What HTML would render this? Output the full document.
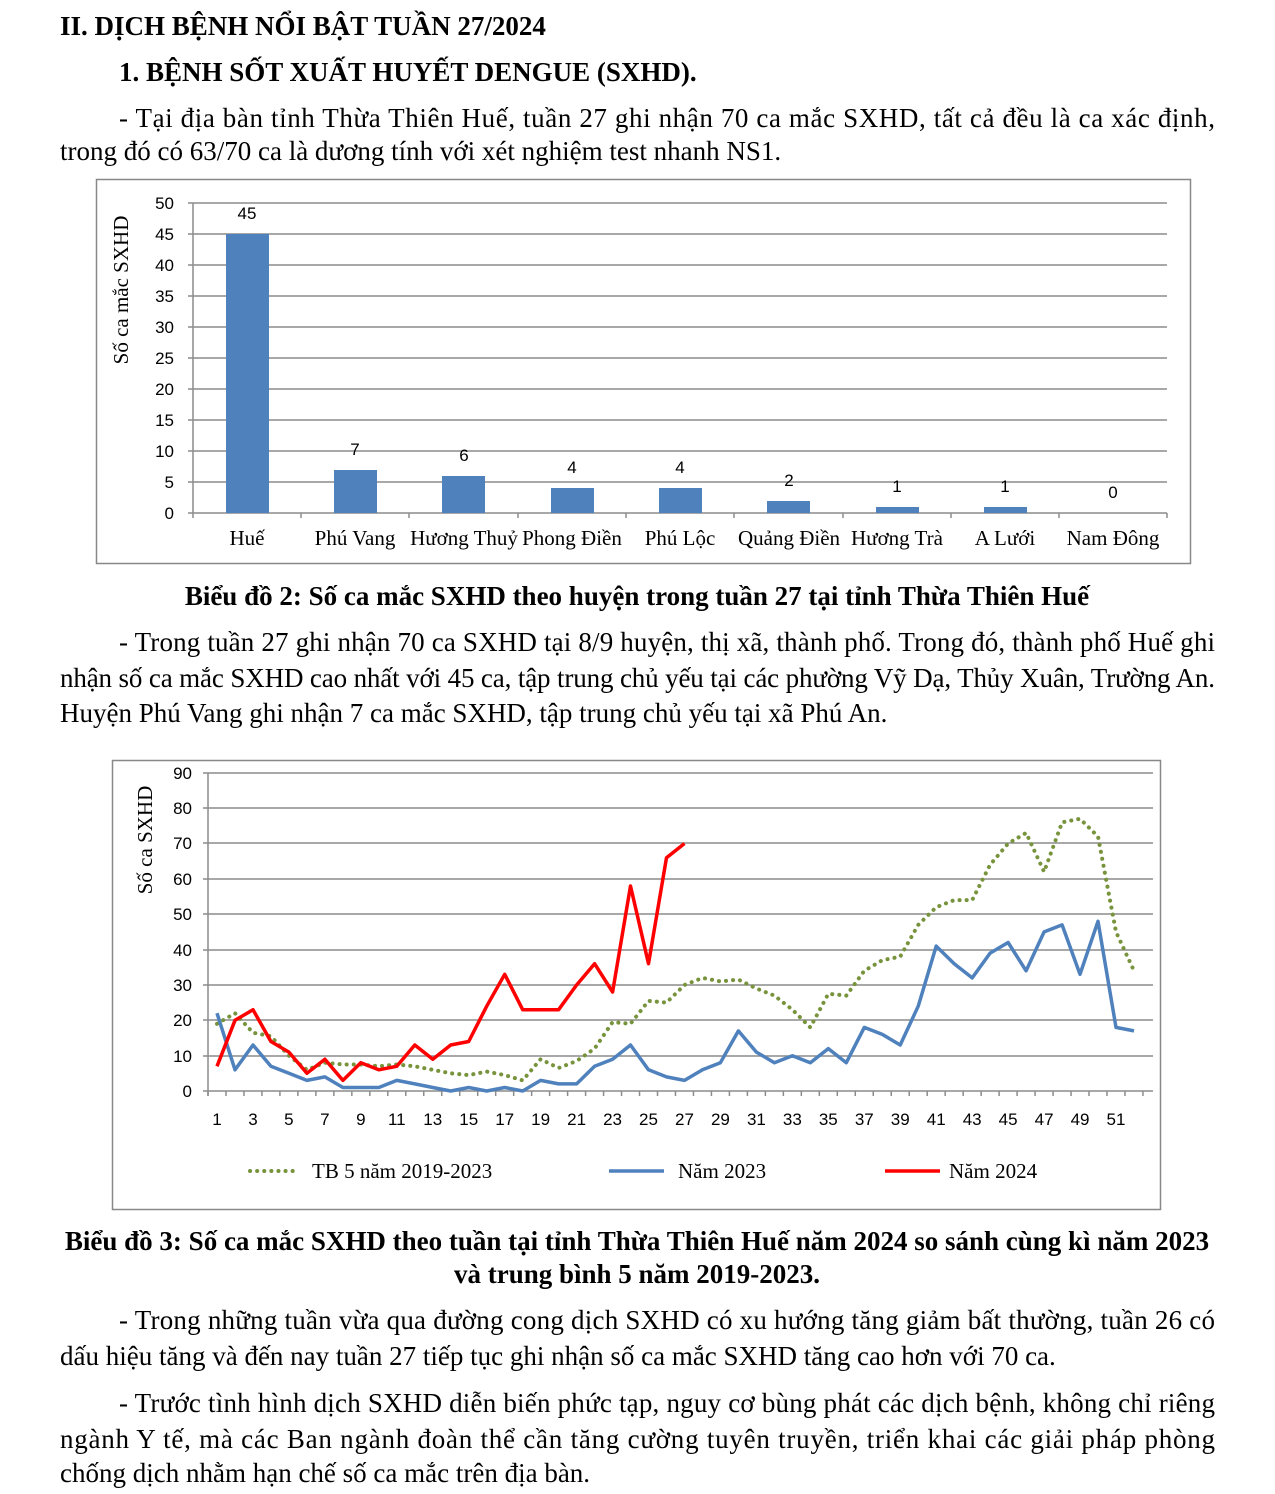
<!DOCTYPE html>
<html><head><meta charset="utf-8"><style>
body{margin:0;background:#fff;}
svg{display:block}
.t{font-family:"Liberation Serif",serif;font-size:27px;fill:#000}
.b{font-weight:bold}
.s{font-family:"Liberation Sans",sans-serif;font-size:17px;fill:#000}
.sr{font-family:"Liberation Serif",serif;font-size:21px;fill:#000}
</style></head><body>
<svg width="1275" height="1494" xmlns="http://www.w3.org/2000/svg">
<text class="t b" x="60" y="35">II. DỊCH BỆNH NỔI BẬT TUẦN 27/2024</text>
<text class="t b" x="119" y="81">1. BỆNH SỐT XUẤT HUYẾT DENGUE (SXHD).</text>
<text class="t" x="119" y="127" textLength="1096" lengthAdjust="spacing">- Tại địa bàn tỉnh Thừa Thiên Huế, tuần 27 ghi nhận 70 ca mắc SXHD, tất cả đều là ca xác định,</text>
<text class="t" x="60" y="160">trong đó có 63/70 ca là dương tính với xét nghiệm test nhanh NS1.</text>

<!-- Bar chart -->
<rect x="96.5" y="179.5" width="1094" height="384" fill="#fff" stroke="#888" stroke-width="1.5"/>
<g stroke="#8c8c8c" stroke-width="1.5">
<line x1="188" x2="1167" y1="513" y2="513"/>
<line x1="188" x2="1167" y1="482" y2="482"/>
<line x1="188" x2="1167" y1="451" y2="451"/>
<line x1="188" x2="1167" y1="420" y2="420"/>
<line x1="188" x2="1167" y1="389" y2="389"/>
<line x1="188" x2="1167" y1="358" y2="358"/>
<line x1="188" x2="1167" y1="327" y2="327"/>
<line x1="188" x2="1167" y1="296" y2="296"/>
<line x1="188" x2="1167" y1="265" y2="265"/>
<line x1="188" x2="1167" y1="234" y2="234"/>
<line x1="188" x2="1167" y1="203" y2="203"/>
<line x1="193" x2="193" y1="203" y2="518"/>
<line x1="301" x2="301" y1="513" y2="518"/><line x1="409" x2="409" y1="513" y2="518"/>
<line x1="518" x2="518" y1="513" y2="518"/><line x1="626" x2="626" y1="513" y2="518"/>
<line x1="734" x2="734" y1="513" y2="518"/><line x1="843" x2="843" y1="513" y2="518"/>
<line x1="951" x2="951" y1="513" y2="518"/><line x1="1059" x2="1059" y1="513" y2="518"/>
<line x1="1167" x2="1167" y1="513" y2="518"/>
</g>
<g class="s" text-anchor="end">
<text x="174" y="519">0</text><text x="174" y="488">5</text><text x="174" y="457">10</text><text x="174" y="426">15</text><text x="174" y="395">20</text><text x="174" y="364">25</text><text x="174" y="333">30</text><text x="174" y="302">35</text><text x="174" y="271">40</text><text x="174" y="240">45</text><text x="174" y="209">50</text>
</g>
<text class="sr" transform="translate(128,290) rotate(-90)" text-anchor="middle">Số ca mắc SXHD</text>
<g fill="#4f81bd">
<rect x="226" y="234" width="43" height="279"/>
<rect x="334" y="470" width="43" height="43"/>
<rect x="442" y="476" width="43" height="37"/>
<rect x="551" y="488" width="43" height="25"/>
<rect x="659" y="488" width="43" height="25"/>
<rect x="767" y="501" width="43" height="12"/>
<rect x="876" y="507" width="43" height="6"/>
<rect x="984" y="507" width="43" height="6"/>
</g>
<g class="s" text-anchor="middle">
<text x="247" y="219">45</text><text x="355" y="455">7</text><text x="464" y="461">6</text><text x="572" y="473">4</text><text x="680" y="473">4</text><text x="789" y="486">2</text><text x="897" y="492">1</text><text x="1005" y="492">1</text><text x="1113" y="498">0</text>
</g>
<g class="sr" text-anchor="middle">
<text x="247" y="545">Huế</text><text x="355" y="545">Phú Vang</text><text x="464" y="545">Hương Thuỷ</text><text x="572" y="545">Phong Điền</text><text x="680" y="545">Phú Lộc</text><text x="789" y="545">Quảng Điền</text><text x="897" y="545">Hương Trà</text><text x="1005" y="545">A Lưới</text><text x="1113" y="545">Nam Đông</text>
</g>

<text class="t b" x="637" y="605" text-anchor="middle">Biểu đồ 2: Số ca mắc SXHD theo huyện trong tuần 27 tại tỉnh Thừa Thiên Huế</text>
<text class="t" x="119" y="651" textLength="1096" lengthAdjust="spacing">- Trong tuần 27 ghi nhận 70 ca SXHD tại 8/9 huyện, thị xã, thành phố. Trong đó, thành phố Huế ghi</text>
<text class="t" x="60" y="687" textLength="1155" lengthAdjust="spacing">nhận số ca mắc SXHD cao nhất với 45 ca, tập trung chủ yếu tại các phường Vỹ Dạ, Thủy Xuân, Trường An.</text>
<text class="t" x="60" y="722">Huyện Phú Vang ghi nhận 7 ca mắc SXHD, tập trung chủ yếu tại xã Phú An.</text>

<!-- Line chart -->
<rect x="112.5" y="760.5" width="1048" height="449" fill="#fff" stroke="#888" stroke-width="1.5"/>
<g stroke="#8c8c8c" stroke-width="1.5">
<line x1="203" x2="1153" y1="1091" y2="1091"/>
<line x1="203" x2="1153" y1="1056" y2="1056"/>
<line x1="203" x2="1153" y1="1020" y2="1020"/>
<line x1="203" x2="1153" y1="985" y2="985"/>
<line x1="203" x2="1153" y1="950" y2="950"/>
<line x1="203" x2="1153" y1="914" y2="914"/>
<line x1="203" x2="1153" y1="879" y2="879"/>
<line x1="203" x2="1153" y1="843" y2="843"/>
<line x1="203" x2="1153" y1="808" y2="808"/>
<line x1="203" x2="1153" y1="773" y2="773"/>
<line x1="208" x2="208" y1="773" y2="1096"/>
</g>
<g id="ticks" stroke="#8c8c8c" stroke-width="1.5"></g>
<g class="s" text-anchor="end">
<text x="192" y="1097">0</text><text x="192" y="1062">10</text><text x="192" y="1026">20</text><text x="192" y="991">30</text><text x="192" y="956">40</text><text x="192" y="920">50</text><text x="192" y="885">60</text><text x="192" y="849">70</text><text x="192" y="814">80</text><text x="192" y="779">90</text>
</g>
<text class="sr" transform="translate(152,840) rotate(-90)" text-anchor="middle">Số ca SXHD</text>
<g id="xl" class="s" text-anchor="middle"></g>
<polyline id="tb" fill="none" stroke="#77933c" stroke-width="4" stroke-dasharray="0.1 7" stroke-linecap="round"/>
<polyline id="y23" fill="none" stroke="#4f81bd" stroke-width="3.5" stroke-linejoin="round"/>
<polyline id="y24" fill="none" stroke="#ff0000" stroke-width="3.5" stroke-linejoin="round"/>
<line x1="250" x2="296" y1="1171" y2="1171" stroke="#77933c" stroke-width="4" stroke-dasharray="0.1 7" stroke-linecap="round"/>
<text class="sr" x="312" y="1178">TB 5 năm 2019-2023</text>
<line x1="609" x2="664" y1="1171" y2="1171" stroke="#4f81bd" stroke-width="3.5"/>
<text class="sr" x="678" y="1178">Năm 2023</text>
<line x1="885" x2="940" y1="1171" y2="1171" stroke="#ff0000" stroke-width="3.5"/>
<text class="sr" x="949" y="1178">Năm 2024</text>

<text class="t b" x="637" y="1250" text-anchor="middle">Biểu đồ 3: Số ca mắc SXHD theo tuần tại tỉnh Thừa Thiên Huế năm 2024 so sánh cùng kì năm 2023</text>
<text class="t b" x="637" y="1283" text-anchor="middle">và trung bình 5 năm 2019-2023.</text>
<text class="t" x="119" y="1329" textLength="1096" lengthAdjust="spacing">- Trong những tuần vừa qua đường cong dịch SXHD có xu hướng tăng giảm bất thường, tuần 26 có</text>
<text class="t" x="60" y="1365">dấu hiệu tăng và đến nay tuần 27 tiếp tục ghi nhận số ca mắc SXHD tăng cao hơn với 70 ca.</text>
<text class="t" x="119" y="1412" textLength="1096" lengthAdjust="spacing">- Trước tình hình dịch SXHD diễn biến phức tạp, nguy cơ bùng phát các dịch bệnh, không chỉ riêng</text>
<text class="t" x="60" y="1448" textLength="1155" lengthAdjust="spacing">ngành Y tế, mà các Ban ngành đoàn thể cần tăng cường tuyên truyền, triển khai các giải pháp phòng</text>
<text class="t" x="60" y="1482">chống dịch nhằm hạn chế số ca mắc trên địa bàn.</text>
</svg>
<script>
var X=function(w){return 217+17.98*(w-1)};var Y=function(v){return 1091-v*3.535};
function pts(a){return a.map(function(v,i){return X(i+1).toFixed(1)+","+Y(v).toFixed(1)}).join(" ")}
var y24=[7,20,23,14,11,5,9,3,8,6,7,13,9,13,14,24,33,23,23,23,30,36,28,58,36,66,70];
var y23=[22,6,13,7,5,3,4,1,1,1,3,2,1,0,1,0,1,0,3,2,2,7,9,13,6,4,3,6,8,17,11,8,10,8,12,8,18,16,13,24,41,36,32,39,42,34,45,47,33,48,18,17];
var tb=[19,22,16.5,15.5,10,6,8,7.5,7.5,7,7.5,7,6,5,4.5,5.5,4.5,3,9,6.5,8.5,12,19.5,19,25.5,25,30,32,31,31.5,29,27,23,18,27.5,27,34,37,38,47,52,54,54,64,70,73,62,76,77,72,45,34];
document.getElementById('y24').setAttribute('points',pts(y24));
document.getElementById('y23').setAttribute('points',pts(y23));
document.getElementById('tb').setAttribute('points',pts(tb));
var ns="http://www.w3.org/2000/svg",tk=document.getElementById('ticks'),xl=document.getElementById('xl');
for(var i=0;i<=52;i++){var x=208+17.98*i;var l=document.createElementNS(ns,'line');l.setAttribute('x1',x);l.setAttribute('x2',x);l.setAttribute('y1',1091);l.setAttribute('y2',1096);tk.appendChild(l);}
for(var w=1;w<=51;w+=2){var t=document.createElementNS(ns,'text');t.setAttribute('x',X(w));t.setAttribute('y',1125);t.textContent=w;xl.appendChild(t);}
</script>
</body></html>
